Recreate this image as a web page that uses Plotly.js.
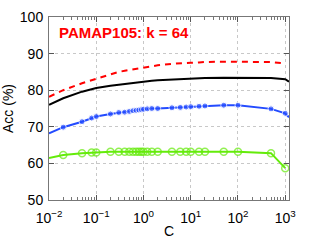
<!DOCTYPE html>
<html>
<head>
<meta charset="utf-8">
<script src="https://cdn.plot.ly/plotly-3.0.1.min.js"></script>
<style>html,body{margin:0;padding:0;background:#fff;}#chart{width:319px;height:240px;}</style>
</head>
<body>
<div id="chart"></div>
<script>
// Data
var C = [0.01, 0.02, 0.05, 0.08, 0.1, 0.2, 0.3, 0.4, 0.5, 0.6, 0.7, 0.8, 0.9, 1, 1.2, 1.5, 2, 4, 6, 8, 10, 15, 20, 50, 100, 500, 1000, 1200];
var redDashed = [78.2, 80.0, 81.9, 82.7, 83.2, 84.4, 85.0, 85.3, 85.5, 85.7, 85.8, 85.9, 86.0, 86.1, 86.3, 86.5, 86.8, 87.2, 87.4, 87.5, 87.5, 87.6, 87.7, 87.8, 87.8, 87.7, 87.3, null];
var blackLine = [76.0, 77.8, 79.6, 80.3, 80.6, 81.2, 81.5, 81.7, 81.9, 82.0, 82.1, 82.2, 82.2, 82.3, 82.4, 82.6, 82.7, 82.9, 83.0, 83.1, 83.1, 83.2, 83.3, 83.4, 83.4, 83.3, 83.0, 82.3];
var blueLine = [68.2, 69.9, 71.4, 72.4, 72.8, 73.5, 73.9, 74.0, 74.2, 74.4, 74.5, 74.6, 74.7, 74.8, 74.9, 75.0, 75.0, 75.2, 75.3, 75.4, 75.5, 75.6, 75.7, 75.9, 75.9, 74.9, 73.7, 72.6];
var greenLine = [61.5, 62.3, 62.8, 63.0, 63.0, 63.2, 63.2, 63.2, 63.2, 63.2, 63.2, 63.2, 63.2, 63.2, 63.2, 63.2, 63.2, 63.2, 63.2, 63.2, 63.2, 63.2, 63.2, 63.2, 63.2, 62.8, 58.7, null];
var xTickVals = [0.01, 0.1, 1, 10, 100, 1000];
var xTickText = ['10<sup>\u22122</sup>', '10<sup>\u22121</sup>', '10<sup>0</sup>', '10<sup>1</sup>', '10<sup>2</sup>', '10<sup>3</sup>'];
var yTickVals = [50, 60, 70, 80, 90, 100];
var chartTitle = 'PAMAP105: k = 64';

var blueSizes = C.map(function (c, i) { return (i === 0 || c > 1000) ? 0 : 6; });
var greenSizes = C.map(function (c, i) { return (i === 0 || c > 1000) ? 0 : 7; });

var traces = [
  {x: C, y: redDashed, mode: 'lines', line: {color: '#ff0000', width: 2, dash: '6px,5px'}},
  {x: C, y: blackLine, mode: 'lines', line: {color: '#000000', width: 2}},
  {x: C, y: blueLine, mode: 'lines+markers', line: {color: 'rgb(35,75,255)', width: 2},
   marker: {color: 'rgb(35,75,255)', size: blueSizes}},
  {x: C, y: greenLine, mode: 'lines+markers', line: {color: 'rgb(100,235,10)', width: 2},
   marker: {color: 'rgba(0,0,0,0)', size: greenSizes, line: {color: 'rgb(100,235,10)', width: 1.5}}}
];

var axisFont = {family: 'Liberation Sans, Arial, sans-serif', size: 14, color: '#000'};

var layout = {
  width: 319, height: 240,
  margin: {l: 49, r: 30, t: 17, b: 40, pad: 0},
  paper_bgcolor: '#fff', plot_bgcolor: '#fff',
  showlegend: false,
  font: axisFont,
  xaxis: {
    type: 'log', range: [-2, 3.08],
    tickvals: xTickVals, ticktext: xTickText,
    ticks: 'inside', ticklen: 5, tickcolor: '#555', tickwidth: 1,
    ticklabelstandoff: 5,
    showline: true, linecolor: '#777', linewidth: 1, mirror: 'ticks',
    showgrid: true, gridcolor: '#c8c8c8', griddash: 'dot', gridwidth: 1,
    zeroline: false,
    minor: {ticks: 'inside', ticklen: 3, tickcolor: '#777', dtick: 'D1', showgrid: false},
    tickfont: axisFont,
    title: {text: 'C', font: axisFont, standoff: 1}
  },
  yaxis: {
    range: [50, 100],
    tickvals: yTickVals,
    ticks: 'inside', ticklen: 5, tickcolor: '#555', tickwidth: 1,
    ticklabelstandoff: 2,
    showline: true, linecolor: '#777', linewidth: 1, mirror: 'ticks',
    showgrid: true, gridcolor: '#c8c8c8', griddash: 'dot', gridwidth: 1,
    zeroline: false,
    tickfont: axisFont,
    title: {text: 'Acc (%)', font: axisFont, standoff: 5}
  },
  annotations: [{
    text: '<b>' + chartTitle + '</b>', xref: 'paper', yref: 'paper',
    x: 0.035, y: 0.915, xanchor: 'left', yanchor: 'middle', showarrow: false,
    font: {family: 'Liberation Sans, Arial, sans-serif', size: 15, color: '#ff0000'}
  }]
};

Plotly.newPlot('chart', traces, layout, {staticPlot: true, displayModeBar: false});
</script>
</body>
</html>
